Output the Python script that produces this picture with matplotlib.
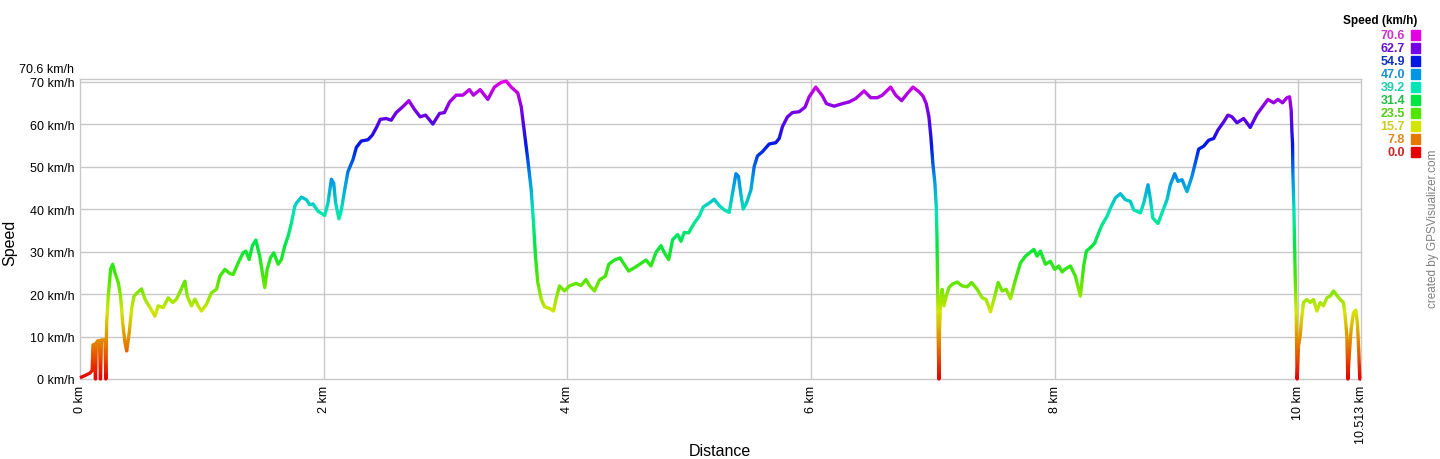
import matplotlib
matplotlib.use("Agg")
import matplotlib.pyplot as plt
from matplotlib.colors import LinearSegmentedColormap
from matplotlib.patches import Rectangle
from matplotlib.transforms import offset_copy
import numpy as np

plt.rcParams['font.family'] = ['Liberation Sans', 'DejaVu Sans']

# speed profile (km, km/h)
dist_km = [
    0.000, 0.040, 0.082, 0.100, 0.106, 0.120, 0.127, 0.134, 0.145, 0.160, 0.168,
    0.176, 0.190, 0.205, 0.212, 0.219, 0.232, 0.251, 0.268, 0.287, 0.314, 0.333,
    0.350, 0.369, 0.383, 0.404, 0.423, 0.443, 0.470, 0.505, 0.533, 0.574, 0.615,
    0.642, 0.683, 0.724, 0.760, 0.792, 0.820, 0.861, 0.880, 0.915, 0.943, 0.970,
    0.997, 1.038, 1.079, 1.120, 1.148, 1.189, 1.230, 1.257, 1.298, 1.339, 1.361,
    1.388, 1.415, 1.443, 1.475, 1.497, 1.516, 1.536, 1.563, 1.590, 1.626, 1.653,
    1.680, 1.708, 1.735, 1.762, 1.776, 1.817, 1.858, 1.885, 1.912, 1.953, 2.008,
    2.035, 2.063, 2.082, 2.098, 2.125, 2.145, 2.172, 2.199, 2.240, 2.268, 2.308,
    2.363, 2.399, 2.437, 2.464, 2.513, 2.554, 2.595, 2.650, 2.699, 2.746, 2.792,
    2.836, 2.896, 2.951, 2.991, 3.033, 3.087, 3.142, 3.196, 3.229, 3.284, 3.347,
    3.401, 3.456, 3.498, 3.539, 3.593, 3.621, 3.648, 3.675, 3.703, 3.722, 3.738,
    3.757, 3.785, 3.812, 3.853, 3.886, 3.907, 3.935, 3.976, 4.017, 4.071, 4.112,
    4.153, 4.181, 4.222, 4.263, 4.312, 4.339, 4.386, 4.432, 4.459, 4.503, 4.550,
    4.604, 4.645, 4.686, 4.727, 4.768, 4.796, 4.831, 4.864, 4.905, 4.932, 4.959,
    4.995, 5.041, 5.082, 5.115, 5.164, 5.205, 5.246, 5.287, 5.328, 5.355, 5.383,
    5.404, 5.424, 5.443, 5.470, 5.506, 5.533, 5.560, 5.601, 5.656, 5.710, 5.738,
    5.765, 5.806, 5.847, 5.902, 5.951, 5.984, 6.038, 6.093, 6.126, 6.189, 6.257,
    6.312, 6.366, 6.435, 6.489, 6.544, 6.585, 6.653, 6.694, 6.743, 6.790, 6.836,
    6.885, 6.918, 6.945, 6.967, 6.983, 6.999, 7.016, 7.027, 7.033, 7.038, 7.043,
    7.049, 7.054, 7.063, 7.076, 7.090, 7.109, 7.131, 7.158, 7.199, 7.240, 7.281,
    7.317, 7.363, 7.404, 7.437, 7.472, 7.500, 7.535, 7.568, 7.601, 7.636, 7.677,
    7.718, 7.759, 7.828, 7.855, 7.882, 7.923, 7.964, 7.999, 8.033, 8.060, 8.087,
    8.128, 8.169, 8.210, 8.237, 8.259, 8.292, 8.328, 8.360, 8.388, 8.429, 8.456,
    8.497, 8.538, 8.579, 8.620, 8.648, 8.703, 8.730, 8.765, 8.785, 8.804, 8.847,
    8.880, 8.921, 8.948, 8.984, 9.011, 9.044, 9.085, 9.126, 9.153, 9.181, 9.222,
    9.263, 9.304, 9.339, 9.386, 9.421, 9.454, 9.495, 9.550, 9.604, 9.659, 9.700,
    9.749, 9.796, 9.831, 9.869, 9.905, 9.927, 9.940, 9.946, 9.951, 9.954, 9.962,
    9.968, 9.973, 9.981, 9.989, 10.000, 10.014, 10.028, 10.041, 10.069, 10.096,
    10.123, 10.151, 10.178, 10.205, 10.233, 10.260, 10.287, 10.315, 10.342,
    10.369, 10.383, 10.397, 10.405, 10.416, 10.432, 10.451, 10.470, 10.484,
    10.494, 10.503, 10.513,
]
speed_kmh = [
    0.3, 0.8, 1.4, 2.0, 8.0, 8.2, 0.0, 8.5, 9.0, 9.0, 0.0,
    9.2, 9.2, 9.2, 0.0, 13.3, 19.5, 25.8, 27.0, 25.0, 22.7, 19.5,
    13.3, 8.6, 6.6, 10.9, 16.4, 19.5, 20.3, 21.2, 18.8, 16.8, 14.8,
    17.2, 16.8, 19.1, 18.0, 18.8, 20.5, 23.0, 19.5, 17.2, 18.8, 17.2,
    16.0, 17.6, 20.3, 21.1, 24.2, 25.8, 24.8, 24.6, 27.3, 29.7, 30.1,
    28.1, 31.4, 32.7, 28.9, 25.0, 21.5, 25.8, 28.5, 29.7, 27.0, 28.1,
    31.3, 33.6, 36.7, 40.6, 41.4, 42.8, 42.2, 41.0, 41.2, 39.5, 38.5,
    41.4, 47.0, 46.1, 41.4, 37.7, 39.8, 44.5, 48.8, 51.6, 54.5, 56.0,
    56.3, 57.4, 59.4, 61.1, 61.3, 60.9, 62.7, 64.1, 65.5, 63.4, 61.7,
    62.1, 60.0, 62.5, 62.7, 65.2, 66.8, 66.8, 68.1, 66.8, 68.1, 65.8,
    68.7, 69.8, 70.1, 68.7, 67.3, 64.1, 57.8, 51.6, 44.5, 36.7, 28.9,
    22.7, 18.8, 17.0, 16.6, 16.0, 18.8, 21.9, 20.7, 21.9, 22.5, 22.0,
    23.4, 22.0, 20.7, 23.3, 24.2, 27.0, 28.0, 28.5, 27.3, 25.4, 26.2,
    27.2, 28.0, 26.6, 29.8, 31.4, 29.7, 28.1, 32.8, 34.0, 32.4, 34.5,
    34.4, 36.7, 38.3, 40.5, 41.4, 42.3, 40.8, 39.8, 39.2, 43.7, 48.3,
    47.7, 43.4, 40.0, 41.4, 44.5, 50.0, 52.5, 53.5, 55.3, 55.6, 56.6,
    59.4, 61.7, 62.7, 62.9, 64.0, 66.4, 68.7, 66.6, 64.8, 64.2, 64.8,
    65.2, 66.0, 67.8, 66.2, 66.2, 66.8, 68.7, 66.8, 65.5, 67.2, 68.7,
    67.6, 66.6, 64.8, 61.7, 57.0, 50.8, 46.1, 40.6, 33.6, 21.9, 10.2,
    0.0, 11.7, 18.7, 21.1, 17.2, 19.5, 21.5, 22.3, 22.8, 21.9, 21.7,
    22.7, 21.1, 19.1, 18.7, 15.8, 18.7, 22.7, 20.7, 21.1, 18.9, 23.4,
    27.3, 28.9, 30.5, 28.9, 30.1, 27.0, 27.7, 25.8, 26.6, 25.2, 25.9,
    26.6, 24.2, 19.5, 26.6, 30.1, 30.9, 32.0, 34.4, 36.3, 38.3, 40.2,
    42.6, 43.6, 42.2, 41.8, 39.8, 39.1, 41.4, 45.7, 42.2, 37.9, 36.6,
    39.1, 42.2, 45.7, 48.3, 46.5, 46.9, 44.1, 47.7, 50.8, 54.1, 54.8,
    56.2, 56.6, 58.6, 60.5, 62.1, 61.7, 60.3, 61.3, 59.2, 62.3, 63.9,
    65.8, 65.0, 65.8, 65.0, 66.2, 66.4, 63.3, 58.2, 55.5, 48.4, 40.6,
    32.0, 24.2, 15.6, 0.0, 7.8, 10.2, 14.8, 18.0, 18.7, 18.0,
    18.7, 16.0, 18.0, 17.2, 19.1, 19.5, 20.7, 19.7, 18.7,
    18.0, 14.8, 10.2, 0.0, 5.5, 11.7, 15.6, 16.2, 13.0,
    7.0, 0.0, 0.0,
]

legend_values = [70.6, 62.7, 54.9, 47.0, 39.2, 31.4, 23.5, 15.7, 7.8, 0.0]
legend_colors = ['#e600e6', '#7300e6', '#0018e6', '#0096e6', '#00e6b4',
                 '#00e640', '#50e600', '#d2e600', '#e67800', '#e60000']
legend_text_colors = ['#cc33cc', '#6611cc', '#1133bb', '#1a8fd0', '#22ccaa',
                      '#22bb44', '#55cc11', '#cccc22', '#dd8822', '#cc2222']
x_ticks = [0, 2, 4, 6, 8, 10, 10.513]
x_tick_labels = ["0 km", "2 km", "4 km", "6 km", "8 km", "10 km", "10.513 km"]
y_ticks = [0, 10, 20, 30, 40, 50, 60, 70]
y_tick_labels = [f"{v} km/h" for v in y_ticks]
y_max = 70.6
x_max = 10.513

# colour ramp, low speed -> high speed
cmap = LinearSegmentedColormap.from_list(
    "speed", list(zip(np.array(legend_values[::-1]) / y_max, legend_colors[::-1])))

W, H = 1440, 460
fig = plt.figure(figsize=(W / 100, H / 100), dpi=100)
ax = fig.add_axes([80 / W, 80 / H, 1281 / W, 300 / H])
ax.set_xlim(0, x_max)
ax.set_ylim(0, y_max)

# draw the track once per speed band, each clipped to its band -> colour follows speed
band_edges = np.arange(0, 71.5, 0.5)
for lo, hi in zip(band_edges[:-1], band_edges[1:]):
    c = cmap(min((lo + hi) / 2 / y_max, 1.0))
    y0 = -5 if lo == 0 else lo
    y1 = 80 if hi >= 71 else hi
    ln, = ax.plot(dist_km, speed_kmh, color=c, lw=2.4, solid_joinstyle='round',
                  solid_capstyle='butt', zorder=3)
    clip = Rectangle((-1, y0), x_max + 2, y1 - y0, transform=ax.transData)
    ln.set_clip_path(clip)

grid_c = '#c8c8c8'
for v in y_ticks[1:]:
    ax.axhline(v, color=grid_c, lw=1.0, zorder=1)
for d in x_ticks[1:-1]:
    ax.axvline(d, color=grid_c, lw=1.0, zorder=1)
for s in ax.spines.values():
    s.set_color(grid_c)
    s.set_linewidth(1.0)

ax.set_xticks(x_ticks)
ax.set_xticklabels(x_tick_labels, rotation=90, fontsize=9)
ax.set_yticks(y_ticks)
ax.set_yticklabels(y_tick_labels, fontsize=9)
ax.tick_params(length=0, pad=4)
# top value label sits just above the 70 km/h label
top_tr = offset_copy(ax.get_yaxis_transform(), fig=fig, x=-4, y=7.5, units='points')
ax.text(0, y_max, "70.6 km/h", transform=top_tr, ha='right', va='center', fontsize=9)

fig.text(10 / W, 1 - 243 / H, "Speed", rotation=90, ha='center', va='center', fontsize=11.5)
fig.text(720 / W, 1 - 452 / H, "Distance", ha='center', va='center', fontsize=11.5)
fig.text(1433 / W, 1 - 229 / H, "created by GPSVisualizer.com", rotation=90,
         ha='center', va='center', fontsize=8.5, color='#808080')

# legend
fig.text(1417 / W, 1 - 21 / H, "Speed (km/h)", ha='right', va='center',
         fontsize=8.5, fontweight='bold')
for i, (v, c, tc) in enumerate(zip(legend_values, legend_colors, legend_text_colors)):
    yc = 36 + i * 12.95
    fig.text(1405 / W, 1 - yc / H, f"{v:.1f}", ha='right', va='center',
             fontsize=9, fontweight='bold', color=tc)
    fig.patches.append(Rectangle((1411 / W, 1 - (yc + 5) / H), 9 / W, 10 / H,
                                 transform=fig.transFigure, color=c, zorder=5))

fig.savefig("out.png", dpi=100, facecolor='white')
